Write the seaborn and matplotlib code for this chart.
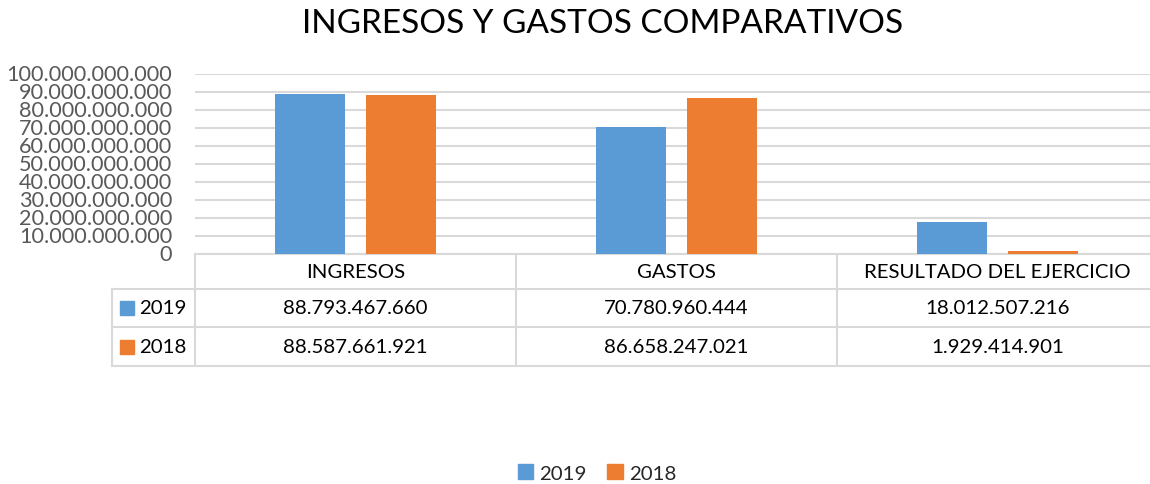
import matplotlib
matplotlib.use("Agg")
import matplotlib.pyplot as plt
import matplotlib.transforms as mtransforms
from matplotlib.lines import Line2D
from matplotlib.patches import Rectangle
import seaborn as sns
import pandas as pd

categories = ["INGRESOS", "GASTOS", "RESULTADO DEL EJERCICIO"]
series_names = ["2019", "2018"]
values_2019 = [88793467660, 70780960444, 18012507216]
values_2018 = [88587661921, 86658247021, 1929414901]
yticks = [0, 10e9, 20e9, 30e9, 40e9, 50e9, 60e9, 70e9, 80e9, 90e9, 100e9]
title = "INGRESOS Y GASTOS COMPARATIVOS"

colors = {"2019": "#5B9BD5", "2018": "#ED7D31"}

def fmt(v):
    return f"{v:,.0f}".replace(",", ".")

df = pd.DataFrame({
    "cat": categories * 2,
    "year": [series_names[0]] * 3 + [series_names[1]] * 3,
    "val": values_2019 + values_2018,
})

sns.set_theme(style="white")
plt.rcParams["font.family"] = ["Lato", "DejaVu Sans"]

W, H = 1150, 485
fig = plt.figure(figsize=(W / 100, H / 100), dpi=100)
x0, x1, ytop, ybot = 195, 1158, 75, 255
ax = fig.add_axes([x0 / W, 1 - ybot / H, (x1 - x0) / W, (ybot - ytop) / H])

sns.barplot(data=df, x="cat", y="val", hue="year", palette=colors, ax=ax,
            width=0.567, gap=0.22, legend=False, zorder=3, saturation=1,
            linewidth=0)

ax.set_xlim(-0.5, 2.5)
ax.set_ylim(0, 100e9)
ax.set_yticks(yticks)
ax.set_yticklabels([fmt(v) for v in yticks], color="#595959", fontsize=15.6)
ax.tick_params(axis="y", length=0, pad=16.5)
for lab in ax.get_yticklabels():
    lab.set_verticalalignment("center")
ax.set_xticks([])
ax.set_xlabel("")
ax.set_ylabel("")
ax.grid(axis="y", color="#D9D9D9", linewidth=1.5, zorder=0)
for s in ["top", "right", "left"]:
    ax.spines[s].set_visible(False)
ax.spines["bottom"].set_color("#D9D9D9")
ax.spines["bottom"].set_linewidth(1.5)

fig.text(603 / W, 1 - 24 / H, title, ha="center", va="center", fontsize=24,
         color="#000000")

# table below the axis
lc = "#D9D9D9"
trans = mtransforms.blended_transform_factory(ax.transData, fig.transFigure)
def fy(py):
    return 1 - py / H
row_header = (255, 290)
row_2019 = (290, 328)
row_2018 = (328, 367)
left_px = 112

for b in [-0.5, 0.5, 1.5]:
    fig.add_artist(Line2D([b, b], [fy(255), fy(367)], transform=trans,
                          color=lc, linewidth=1.5))
fig.add_artist(Line2D([left_px / W, left_px / W], [fy(290), fy(367)],
                      transform=fig.transFigure, color=lc, linewidth=1.5))
for py in [290, 328, 367]:
    fig.add_artist(Line2D([left_px / W, x1 / W], [fy(py), fy(py)],
                          transform=fig.transFigure, color=lc, linewidth=1.5))

tfs = 14.7
for i, c in enumerate(categories):
    fig.text(i, fy(sum(row_header) / 2), c, transform=trans, ha="center",
             va="center", fontsize=tfs, color="#000000")
    fig.text(i, fy(sum(row_2019) / 2), fmt(values_2019[i]), transform=trans,
             ha="center", va="center", fontsize=tfs, color="#000000")
    fig.text(i, fy(sum(row_2018) / 2), fmt(values_2018[i]), transform=trans,
             ha="center", va="center", fontsize=tfs, color="#000000")

for name, row in zip(series_names, [row_2019, row_2018]):
    cy = sum(row) / 2
    fig.add_artist(Rectangle((120 / W, fy(cy + 7)), 14 / W, 14 / H,
                             transform=fig.transFigure, color=colors[name]))
    fig.text(139 / W, fy(cy), name, ha="left", va="center", fontsize=tfs,
             color="#000000")

handles = [Rectangle((0, 0), 1, 1, color=colors[n]) for n in series_names]
fig.legend(handles, series_names, loc="center", bbox_to_anchor=(597 / W, fy(474)),
           ncol=2, frameon=False, fontsize=tfs, handlelength=0.75, handleheight=0.75,
           handletextpad=0.3, columnspacing=1.0)

fig.savefig("out.png", dpi=100)
